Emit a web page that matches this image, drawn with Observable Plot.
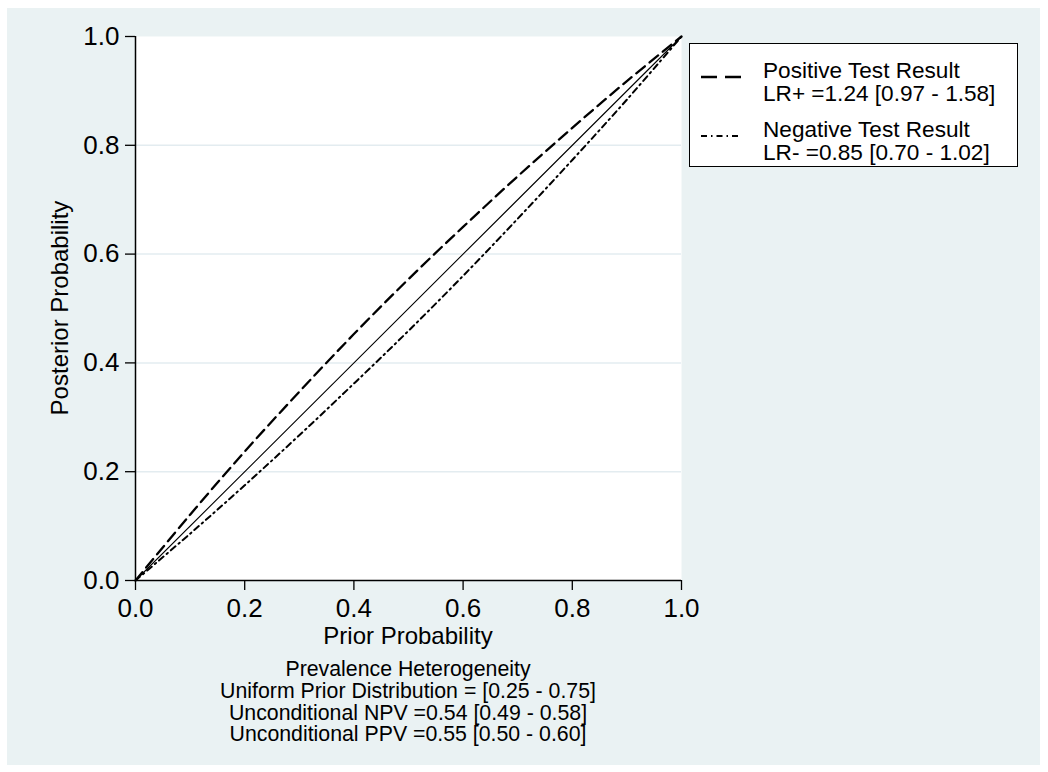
<!DOCTYPE html>
<html>
<head>
<meta charset="utf-8">
<script src="https://cdn.jsdelivr.net/npm/d3@7"></script>
<script src="https://cdn.jsdelivr.net/npm/@observablehq/plot@0.6"></script>
<style>
  html, body { margin: 0; padding: 0; background: #ffffff; }
  #wrap { position: relative; width: 1048px; height: 772px; font-family: "Liberation Sans", Arial, Helvetica, sans-serif; color: #000; overflow: hidden; }
  #panel { position: absolute; left: 7px; top: 8px; width: 1033px; height: 757px; background: #eaf2f3; }
  #chart { position: absolute; left: 0; top: 0; }
  .ytitle { position: absolute; left: 60px; top: 308px; transform: translate(-50%, -50%) rotate(-90deg); font-size: 24px; white-space: nowrap; }
  .xtitle { position: absolute; left: 408px; top: 625px; transform: translateX(-50%); font-size: 24px; white-space: nowrap; line-height: 22px; }
  .caption { position: absolute; left: 408px; top: 659px; transform: translateX(-50%); font-size: 21.3px; line-height: 21.8px; text-align: center; white-space: nowrap; }
  .legend { position: absolute; left: 689px; top: 43px; width: 327px; height: 122px; background: #fff; border: 1.5px solid #000; }
  .legend .item { position: absolute; left: 0; width: 100%; }
  .legend svg { position: absolute; left: 10px; }
  .legend .txt { position: absolute; left: 73px; font-size: 22.6px; line-height: 23px; white-space: nowrap; }
</style>
</head>
<body>
<div id="wrap">
  <div id="panel"></div>
  <div id="chart"></div>
  <div class="ytitle" id="ytitle"></div>
  <div class="xtitle" id="xtitle"></div>
  <div class="caption" id="caption"></div>
  <div class="legend" id="legend"></div>
</div>
<script>
// ---- data ----
const prior = [0, 0.1, 0.2, 0.3, 0.4, 0.5, 0.6, 0.7, 0.8, 0.9, 1.0];
const posteriorPositive = [0, 0.121, 0.237, 0.347, 0.453, 0.554, 0.650, 0.743, 0.832, 0.918, 1.0];
const posteriorNegative = [0, 0.086, 0.175, 0.267, 0.362, 0.459, 0.560, 0.665, 0.773, 0.884, 1.0];
const reference = [0, 1];
const xTicks = [0, 0.2, 0.4, 0.6, 0.8, 1.0];
const yTicks = [0, 0.2, 0.4, 0.6, 0.8, 1.0];
const gridTicks = [0.2, 0.4, 0.6, 0.8];
const xTitle = "Prior Probability";
const yTitle = "Posterior Probability";
const legendLabels = [
  ["Positive Test Result", "LR+ =1.24 [0.97 - 1.58]"],
  ["Negative Test Result", "LR- =0.85 [0.70 - 1.02]"]
];
const captionLines = [
  "Prevalence Heterogeneity",
  "Uniform Prior Distribution = [0.25 - 0.75]",
  "Unconditional NPV =0.54 [0.49 - 0.58]",
  "Unconditional PPV =0.55 [0.50 - 0.60]"
];

const posData = prior.map((p, i) => ({x: p, y: posteriorPositive[i]}));
const negData = prior.map((p, i) => ({x: p, y: posteriorNegative[i]}));
const refData = reference.map(v => ({x: v, y: v}));

const dashPos = "11,6";
const dashNeg = "6,4,1.5,4";

const fmt = d3.format(".1f");
const plot = Plot.plot({
  width: 1048,
  height: 660,
  marginLeft: 135,
  marginRight: 367,
  marginTop: 36,
  marginBottom: 80,
  style: {background: "transparent", fontFamily: "'Liberation Sans', Arial, Helvetica, sans-serif", color: "#000"},
  x: {domain: [0, 1]},
  y: {domain: [0, 1]},
  marks: [
    Plot.frame({fill: "#ffffff", stroke: null}),
    Plot.gridY(gridTicks, {stroke: "#e3ecf0", strokeOpacity: 1, strokeWidth: 1.5}),
    Plot.line(refData, {x: "x", y: "y", stroke: "#000", strokeWidth: 1.1}),
    Plot.line(posData, {x: "x", y: "y", stroke: "#000", strokeWidth: 2.3, strokeDasharray: dashPos, curve: "catmull-rom"}),
    Plot.line(negData, {x: "x", y: "y", stroke: "#000", strokeWidth: 2, strokeDasharray: dashNeg, curve: "catmull-rom"}),
    Plot.axisX(xTicks, {tickSize: 10, tickPadding: 8, fontSize: 26, tickFormat: fmt, label: null, stroke: "#000", strokeWidth: 1.3}),
    Plot.axisY(yTicks, {tickSize: 10, tickPadding: 6, fontSize: 26, tickFormat: fmt, label: null, stroke: "#000", strokeWidth: 1.3}),
    Plot.ruleX([0], {stroke: "#000", strokeWidth: 1.5}),
    Plot.ruleY([0], {stroke: "#000", strokeWidth: 1.5})
  ]
});
document.getElementById("chart").appendChild(plot);

document.getElementById("xtitle").textContent = xTitle;
document.getElementById("ytitle").textContent = yTitle;
document.getElementById("caption").innerHTML = captionLines.map(s => `<div>${s}</div>`).join("");

const legend = document.getElementById("legend");
const tops = [15, 74];
const sampleY = [18, 18];
const widths = [2.3, 2];
const sampleDash = ["16,8", "6,4,1.5,4"];
legendLabels.forEach((lines, i) => {
  const item = document.createElement("div");
  item.className = "item";
  item.style.top = tops[i] + "px";
  item.innerHTML = `<svg width="42" height="44" style="top:0"><line x1="1" x2="41" y1="${sampleY[i]}" y2="${sampleY[i]}" stroke="#000" stroke-width="${widths[i]}" stroke-dasharray="${sampleDash[i]}"/></svg>` +
    `<div class="txt" style="top:0">${lines[0]}<br>${lines[1]}</div>`;
  legend.appendChild(item);
});
</script>
</body>
</html>
